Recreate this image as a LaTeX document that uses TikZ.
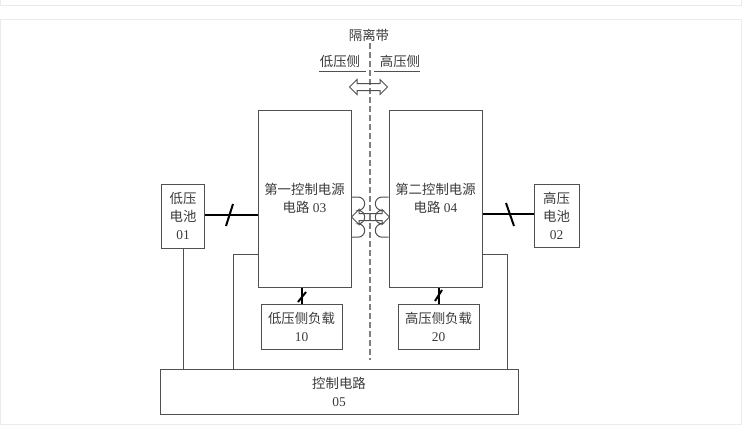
\documentclass[tikz,border=0pt]{standalone}
\usepackage{fontspec}
\setmainfont{Liberation Serif}
\newfontfamily\cjk{Noto Sans CJK SC}
\usetikzlibrary{shapes.arrows}
\newcommand{\hz}[1]{{\cjk #1}}
\definecolor{ink}{HTML}{505050}
\definecolor{txt}{HTML}{3A3A3A}
\tikzset{
  block/.style={draw=ink,line width=1pt,align=center,text=txt,inner sep=0pt,
    font=\fontsize{13.4}{18}\selectfont},
  label/.style={text=txt,inner sep=0pt,font=\fontsize{13.4}{18}\selectfont},
  wire/.style={draw=ink,line width=1pt},
  bus/.style={draw=black,line width=2pt},
  flow/.style={double arrow,draw=ink,line width=1pt,inner xsep=0pt,inner ysep=3pt,
    minimum height=38pt,minimum width=14pt,double arrow head extend=4pt},
  coil/.style={draw=ink,line width=1pt}
}
\begin{document}
\begin{tikzpicture}[x=1pt,y=-1pt]
  \useasboundingbox (0,0) rectangle (744,436);
  \draw[black!8,line width=0.8pt] (0.5,-2) -- (0.5,5) -- (741,5) -- (741,-2);
  \draw[black!8,line width=0.8pt] (0.5,19) rectangle (741,424);

  \node[block,minimum width=43pt,minimum height=64pt] (bat01) at (183,216) {\hz{低压}\\\hz{电池}\\01};
  \node[block,minimum width=45pt,minimum height=63pt] (bat02) at (556.5,215.5) {\hz{高压}\\\hz{电池}\\02};
  \node[block,minimum width=93pt,minimum height=177pt] (ctl03) at (304.5,198.5) {\hz{第一控制电源}\\\hz{电路} 03};
  \node[block,minimum width=93pt,minimum height=177pt] (ctl04) at (435.5,198.5) {\hz{第二控制电源}\\\hz{电路} 04};
  \node[block,minimum width=81pt,minimum height=45pt] (load10) at (301.5,326.5) {\hz{低压侧负载}\\10};
  \node[block,minimum width=81pt,minimum height=45pt] (load20) at (438.5,326.5) {\hz{高压侧负载}\\20};
  \node[block,minimum width=358pt,minimum height=45pt] (ctl05) at (339,391.5) {\hz{控制电路}\\05};

  \node[label] (belt) at (369,35) {\hz{隔离带}};
  \node[label] (lowside) at (340,61) {\hz{低压侧}};
  \node[label] (highside) at (400,61) {\hz{高压侧}};

  \coordinate (sepa) at (370,43);
  \coordinate (sepb) at (370,360);
  \draw[wire,dash pattern=on 6pt off 3pt,black!50,line width=1.2pt] (sepa) -- (sepb);

  \coordinate (lowa) at (319,72);
  \coordinate (lowb) at (366,72);
  \coordinate (higha) at (374,72);
  \coordinate (highb) at (420,72);
  \draw[wire] (lowa) -- (lowb);
  \draw[wire] (higha) -- (highb);
  \node[flow] (swap) at (368.5,87) {};

  % batteries
  \draw[bus] (bat01.east |- 0,215) -- (ctl03.west |- 0,215);
  \draw[bus] (bat02.west |- 0,214) -- (ctl04.east |- 0,214);
  \coordinate (tick1a) at (226,226);
  \coordinate (tick1b) at (233,204);
  \coordinate (tick2a) at (506,203);
  \coordinate (tick2b) at (514,226);
  \draw[bus] (tick1a) -- (tick1b);
  \draw[bus] (tick2a) -- (tick2b);

  % loads
  \draw[bus] (load10.north |- ctl03.south) -- (load10.north);
  \draw[bus] (load20.north |- ctl04.south) -- (load20.north);
  \coordinate (tick3a) at (298,302);
  \coordinate (tick3b) at (306,292);
  \coordinate (tick4a) at (435,301);
  \coordinate (tick4b) at (442,290);
  \draw[bus] (tick3a) -- (tick3b);
  \draw[bus] (tick4a) -- (tick4b);

  % control lines
  \draw[wire] (bat01.south) -- (bat01.south |- ctl05.north);
  \draw[wire] (ctl03.west |- 0,254) -| (233,0 |- ctl05.north);
  \draw[wire] (ctl04.east |- 0,254) -| (507,0 |- ctl05.north);

  % transformer
  \draw[coil] (ctl03.east |- 0,197) -- (358,197)
    arc[start angle=90,end angle=-90,radius=6.7pt]
    arc[start angle=90,end angle=-90,radius=6.7pt]
    arc[start angle=90,end angle=-90,radius=6.7pt]
    -- (ctl03.east |- 0,237.2);
  \draw[coil] (ctl04.west |- 0,197) -- (382,197)
    arc[start angle=90,end angle=270,radius=6.7pt]
    arc[start angle=90,end angle=270,radius=6.7pt]
    arc[start angle=90,end angle=270,radius=6.7pt]
    -- (ctl04.west |- 0,237.2);
  \node[flow] (link) at (370.5,217) {};
\end{tikzpicture}
\end{document}
